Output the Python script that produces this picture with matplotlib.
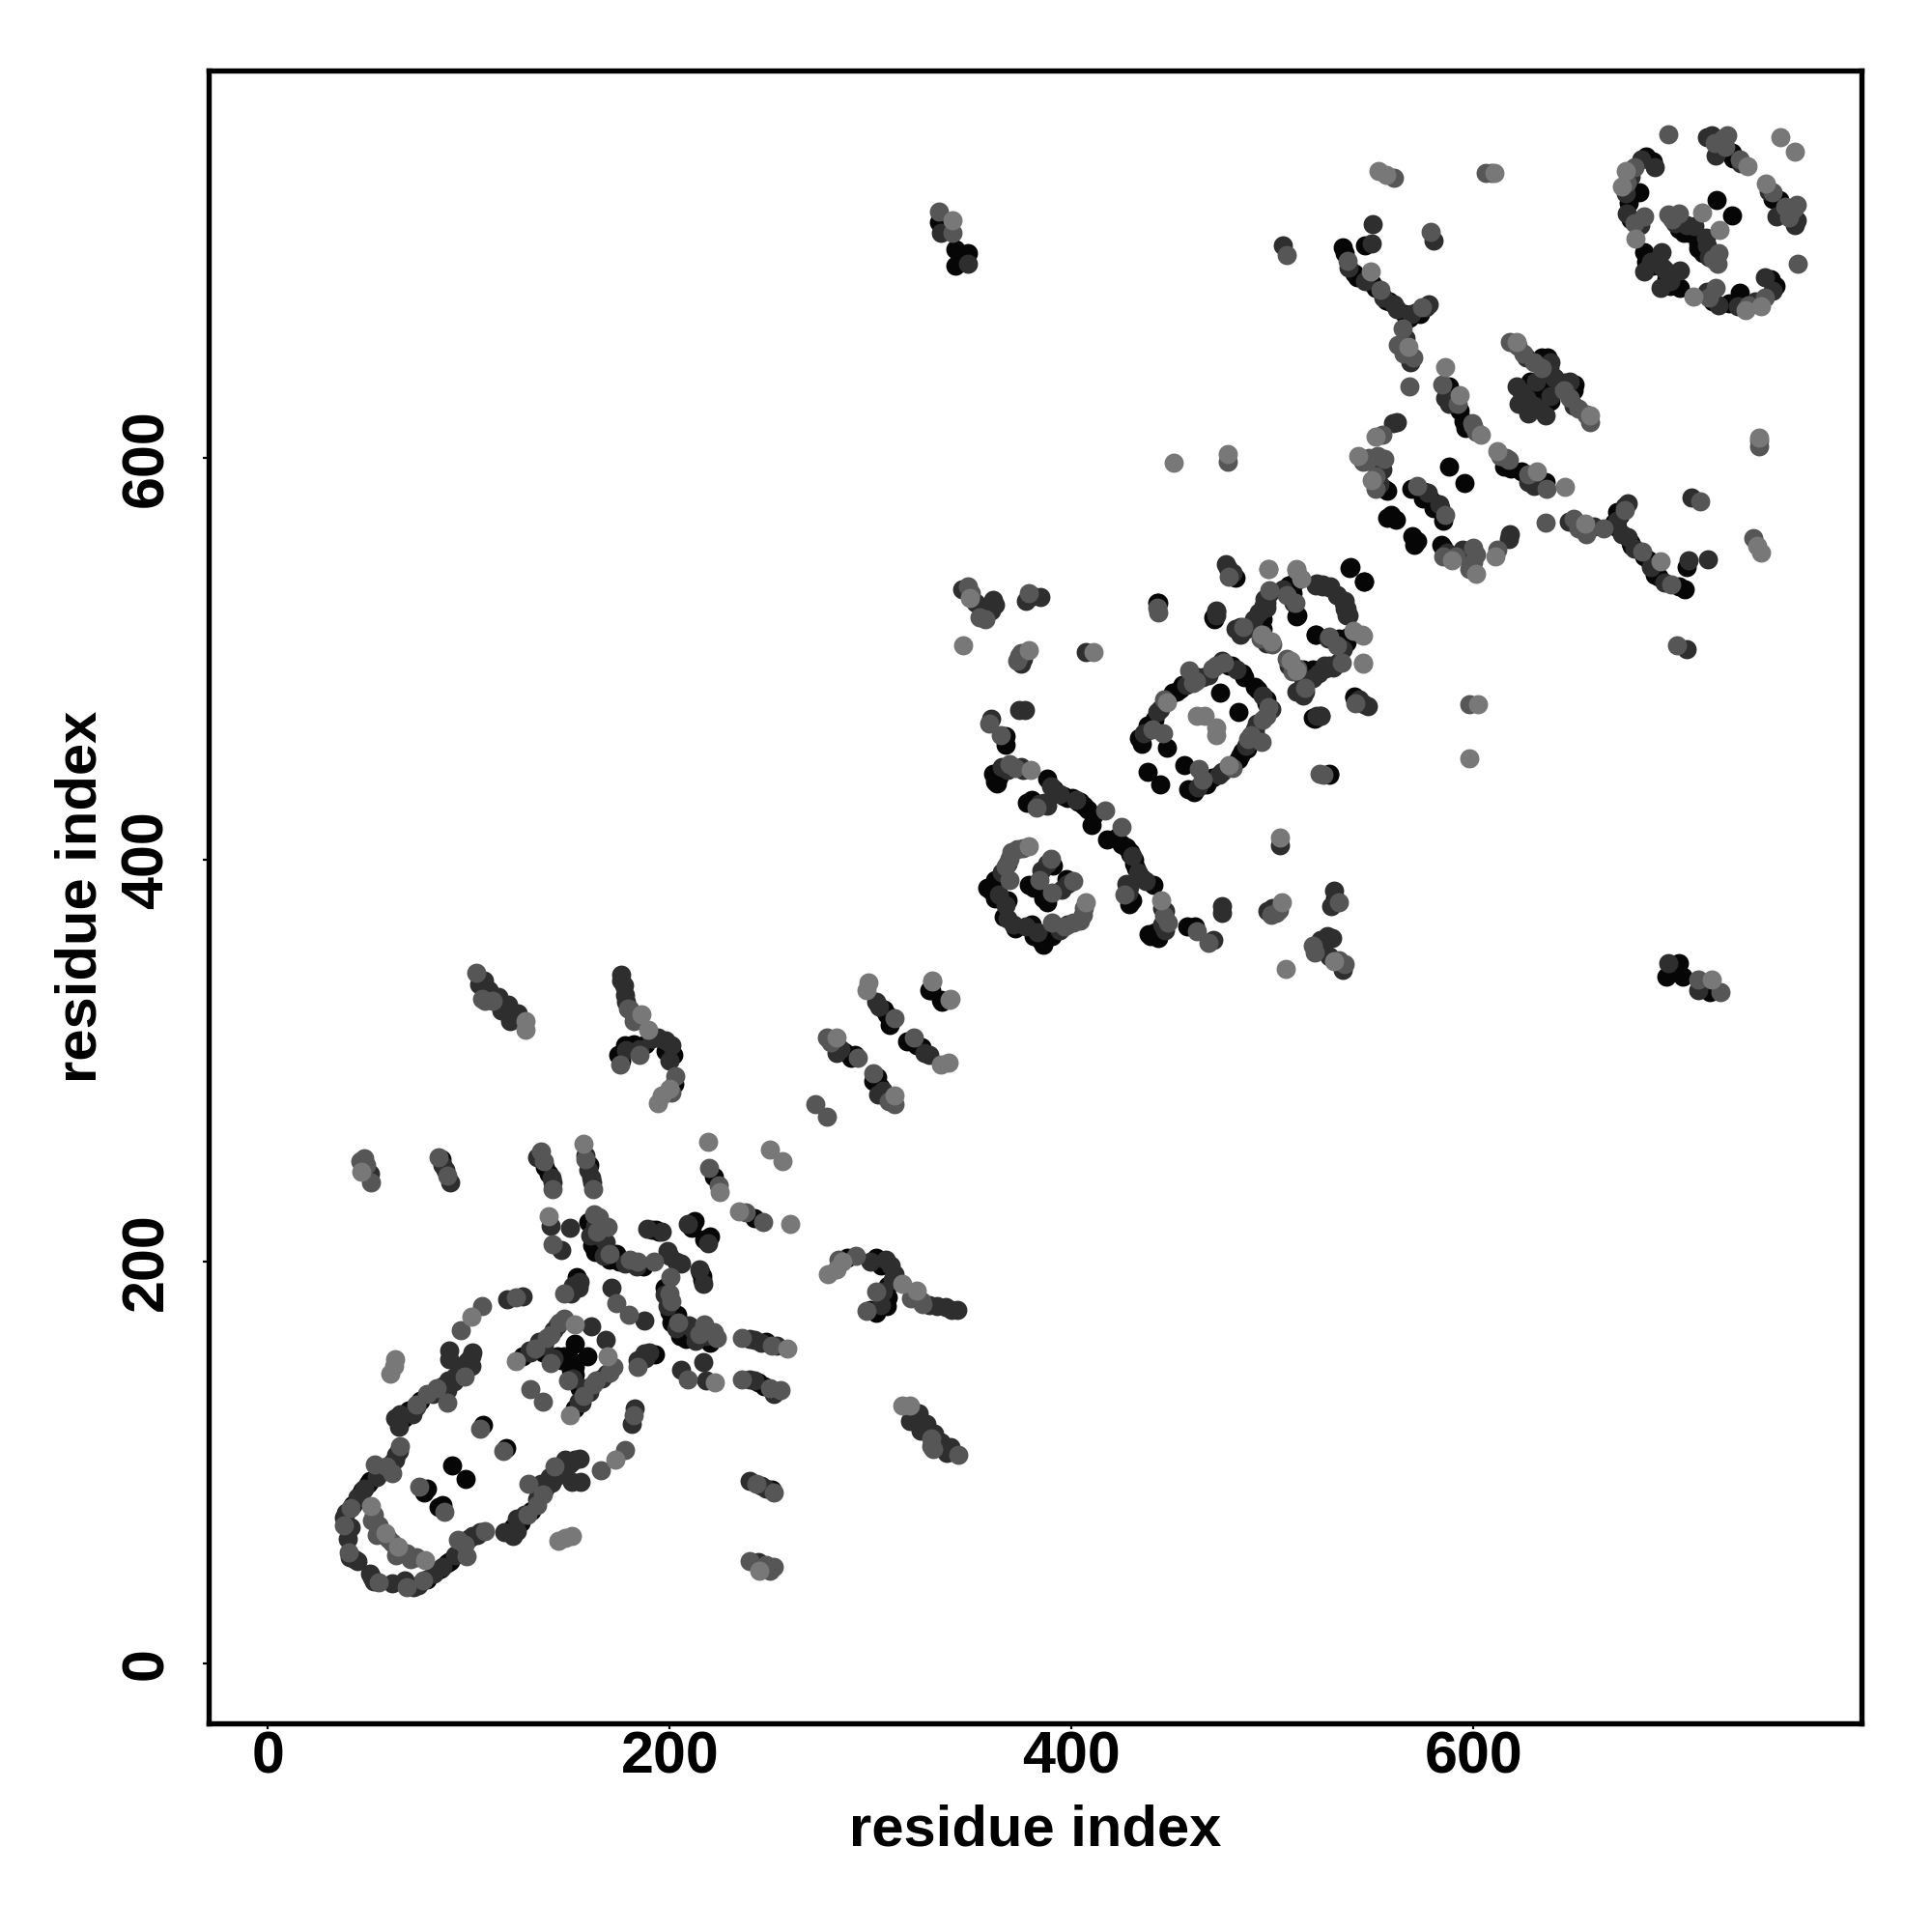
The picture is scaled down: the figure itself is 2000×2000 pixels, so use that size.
import matplotlib
matplotlib.use("Agg")
import matplotlib.pyplot as plt

# Contacts as (i, j) with i < j; the map is symmetric, so each is drawn at (i, j) and (j, i).
contacts_black = [
 (86.4,251),(140,244),(201.8,302.9),(188,308.5),(182.2,308.5),(174.4,302.9),(202.2,288.5),
 (306.8,325.4),(309.7,318.1),(330.3,335),(335.2,329.4),(287.1,304.5),(290,301.3),(221.8,242.3),
 (159.7,220),(161.4,208),(173.4,203.7),(170,201),(187.1,197.7),(194.8,215.2),(191,216),(212.5,220.3),
 (153.7,192.5),(85,135),(67.8,122.2),(127,153),(147.6,153),(140.8,152.2),(144,153),(152.8,159),
 (107.3,118.7),(91.9,98.5),(79,87),(78,85),(49.8,89.5),(47,86),
 (367,461.5),(367,457.5),(364,441.5),(363,438.2),(361.1,443),(387.6,440.7),(377.8,428.6),(392.5,433.4),
 (400.3,431),(406.2,427),(411.1,422.2),(410.1,417.4),(396,432),(403,429),
 (363,388.6),(360.1,384.6),(366,371.8),(378.8,387.8),(381,386),(390.5,397.4),(380.7,531.2),
 (480.7,540.8),(538.8,545.6),(545.5,538.4),(508.2,536.8),(512.1,521.6),(521.5,512),(535.6,508.7),
 (518,493.5),(520.9,470.3),(470.9,520),(443.1,528),(433.7,460.7),(437.6,467),(450.3,483.1),(455.2,487.1),
 (479.8,496.7),(484.7,492.7),(473.9,483.1),(447.4,455.9),(437.6,443.9),(442.5,528),
 (348.5,702),(342,696),(342,704),(334,717.7),(540.5,481.5),
 (534.8,705.1),(540.8,692.2),(549.4,687.1),(556.3,678.5),(565.7,671.6),(573.4,671.6),(546,706),
 (588,635.6),(593.2,623.6),(594.9,618.4),(636.9,650.2),(628.3,638),(587.7,595.6),(555.4,585),
 (569.1,585),(575.1,583.3),(557.1,570.4),(561.4,569.5),(689.3,748),(682.4,732.6),(678.1,718.8),
 (685,702.5),(689.3,695.7),(728.7,752.3),(720.7,728.6),(704.7,712),
 (42,79),(46,84),(51,91),(70,126),(76,131),(95,145),(99,149),(137,155),(146,151),(150,152),
 (163,205),(175,200),(193,216),(211,217),(138,247),(160,248),(118,326),(198,305),(178,308),(176,300),
 (308,323),(292,303),(362,439),(380,430),(391,435),(398,431),(404,429),(408,425),(362,390),(358,386),(362,381),(368,380),
 (435,458),(439,465),(441,470),(452,484),(454,485),(463,491),(478,497),(486,491),(487,515),(533,510),(538,511),(515,495),(520,495),
 (536,702),(542,690),(551,685),(558,678),(568,670),(572,673),(590,630),(596,615),(630,634),(633,636),(634,650),
 (557,584),(572,585),(578,580),(580,575),(559,572),(686,698),(692,698),(677,727),(686,750),(729,749),(707,712),(702,714),
]
contacts_dark = [
 (88.4,245.7),(90.7,239.7),(141.6,239.7),(159.7,245.7),(161.4,239.7),(50.7,244),
 (107.7,339.8),(114.6,331.8),(119.5,327.8),(124.4,323.8),(120.5,319.7),(116,325),
 (175.8,343),(177.3,337.4),(178.3,329.4),(194,311.7),(200.9,307.7),(178.3,305.3),(198,310),
 (302.8,329.4),(283.2,303.7),
 (140.8,217.9),(146,205.7),(150.2,216.9),(160.5,213),(168.2,209.7),(183.7,197.7),(188.8,216.5),(199.1,205.4),
 (154.5,187.3),(151,184),(170.8,187.3),(119.3,181.3),(127,182.6),(90.2,155.6),(90.2,151.3),
 (101.3,153),(101.3,147.9),(99,150),(92.7,140.2),(89.3,135.9),(72.1,123.9),(63.6,122.2),(65.3,117.9),
 (144.2,168.5),(137.3,158.2),(130.5,154.8),(161,168),(65.3,105.8),(63.6,101.6),(54.1,93),(44.7,82.7),
 (37.8,72.4),(41.3,68),(44.7,50.9),
 (345.4,534.7),(361.1,529.6),(355.2,524),(362,527.2),(384.6,530.8),(374.8,497.5),(360.1,470.3),(373.9,474.6),
 (376.8,474.6),(365,446.3),(374.8,446.3),(389.5,436.6),(386.6,428.6),(367,377.4),(476.8,547.2),
 (521.9,537.6),(528.8,536),(535.6,528),(536.6,521.6),(495.4,526.4),(527.8,510.3),(532.7,498.3),(525.8,496.7),
 (516,483.9),(545.5,477.5),(523.9,471.9),(471.9,524),(481.7,515.1),(490.5,520),(442.5,473.5),(465,491.1),
 (474.9,499.1),(407.2,503.6),(505,706),(348.5,697),(335,712),
 (549.9,716.6),(549.4,706.8),(580.3,708.5),(577.7,676.8),(560.6,676.8),(569.1,671.6),(568.6,647.6),
 (588,627),(637.8,645),(621.5,635.6),(630.9,638.2),(622.3,627),(559.7,617.6),(562,618),(554.6,594.4),
 (683.2,748.9),(675.5,731.7),(693.6,702.5),(685,693),(718.4,760.9),(720.2,750.6),(700.4,717.1),(709.9,715.4),
 (39,75),(48,87),(56,96),(62,100),(64,104),(66,124),(74,128),(82,134),(87,138),(90,141),(93,143),(97,147),(100,151),(102,155),
 (40,62),(41,53),(43,52),(130,156),(135,160),(142,166),(142,152),(152,188),(155,190),(163,218),(166,212),(167,203),(178,199),(196,215),(209,219),(200,203),
 (87,248),(134,252),(141,242),(158,253),(161,242),(110,335),(122,322),(105,338),(176,340),(178,333),(191,311),(200,300),(185,306),(304,327),(285,306),
 (368,445),(376,445),(384,428),(388,427),(394,433),(402,430),(368,398),(365,394),(364,383),(371,368),(385,395),(388,398),
 (436,463),(444,475),(457,487),(468,492),(482,495),(493,523),(496,530),(505,535),(525,537),(532,532),(536,525),(528,497),(508,497),(512,484),(515,487),(543,480),(522,472),
 (352,528),(358,525),(360,524),(376,500),(377,529),
 (678,740),(690,745),(676,722),(683,716),(688,698),(694,695),(722,754),(733,747),(716,760),(706,716),
 (538,695),(546,688),(555,680),(562,674),(576,675),(586,630),(626,650),(638,648),(624,633),(626,630),(640,640),(553,587),(583,577),(566,660),
]
contacts_mid = [
 (48,251.7),(51.2,239.7),(89.3,243),(136,255),(137.3,250),(141.6,236),(158,250.8),(161.9,236),
 (103.8,343.8),(106.7,331),(180.3,325.4),(185.2,302.9),(175.4,298.1),(202.8,292.5),
 (311.7,321.4),(278.3,311.7),(293.6,301.3),(272.4,278.4),
 (219.7,246.6),(224.5,238),(141.6,208.8),(162.2,223.4),(169,217.4),(180.2,201),(192.3,200.2),
 (147.6,184),(173.4,179.6),(123.6,182.2),(106.5,177.9),(96.2,165.9),(97.9,142.7),(79,134),(73.9,129),(89.3,129.9),
 (147.6,171.9),(140.8,163.3),(140.8,149.6),(130.5,136.7),(105.6,117),(75.6,87.8),(53.3,99),(61.8,94.7),
 (41.3,77.5),(37.8,69),(55,69),(54,63.8),(40.4,55.2),
 (348.4,536),(357.2,520),(378.8,532.8),(373.9,501.5),(372.9,499.1),(358.8,467.9),(364.6,462.3),(369,447.9),
 (382.7,426.2),(416.6,424.6),(372.9,405.4),(369,400.6),(367,396.6),(369,390.2),(389.5,400.6),(443.1,523.2),
 (498.4,534.4),(511.1,528),(507.2,500),(512.1,495.1),(485.6,516),(460.2,487.9),(470,495.1),(458.6,494.3),
 (445.4,463.1),(477.5,598),(442.5,525.5),(507,701),(340.5,712),(334,722.6),
 (578.6,712.8),(537.4,698.2),(553.7,683.7),(574.3,675),(564.9,664.8),(562.3,656.2),(568,635.6),
 (584.6,636.5),(599.2,617.6),(600,616),(618,658),(624.9,652),(554.6,611.6),(546.8,598.7),(552,601.3),(555.4,599.6),(551.1,585),
 (609,742),(606,742),(560.2,739.4),(697,761.2),(685,720.5),(724.4,759.2),(732.2,748.9),(697,721.4),
 (59,98),(66,108),(84,137),(53,74),(52,71),(60,62),(133,157),(139,162),(145,170),(164,215),(170,204),(184,200),(165,222),
 (46,250),(49,248),(85,252),(112,330),(108,330),(179,326),(182,320),(201,284),(280,309),
 (372,446),(370,404),(376,406),(384,390),(440,465),(446,480),(462,489),(472,497),(476,498),(507,532),(510,494),(541,478),(354,521),(350,533),(375,503),
 (680,745),(676,737),(680,717),(725,755),(726,761),(720,757),(702,722),(699,719),
 (551,591),(545,598),(548,600),(592,627),(601,613),(586,572),(622,656),(630,648),(634,645),(565,652),(570,650),
]
contacts_light = [
 (46.4,244.8),(157,258.6),(128.3,319.7),(128.3,315.7),(185.8,323),(189.1,315.7),(199.9,286.1),(196,282.9),(194,278.9),
 (298.9,339),(298,335),(330.7,339.8),(339.5,330.6),(282.8,311.7),
 (218.9,259.8),(224.9,234.5),(249.9,256),(140,222.5),(152.8,169),(123.6,150.5),(101.3,172.8),
 (63.6,151.3),(62.7,147.9),(61,144.5),(51.5,78.4),(58.4,64.7),
 (349.4,530.4),(346,506.7),(378.8,504.7),(411.1,503.6),(379.7,444.7),(378.8,407),
 (498,544.8),(511.7,544.8),(514,540),(544.5,512),(544.9,497.8),(494.5,512),(499.4,508.7),(447.4,478.3),(466,471.9),(462.1,471.9),
 (477.5,602),(450.7,597.7),(340.5,718.7),
 (552.8,742.9),(556.3,741.1),(610.3,742),(548.6,693.1),(567.4,655.3),(585.8,645.6),(593.2,631.3),(603.5,611.6),
 (621.5,658),(551.1,610.7),(542.5,601.3),(549.4,589.3),(675.5,742.9),(673.8,735.1),(680.7,709.4),(736.5,745.4),(752.8,760),(713.8,722.3),
]
level_names = ["black", "dark", "mid", "light"]
level_colors = ["#060606", "#2e2e2e", "#565656", "#787878"]
levels = [contacts_black, contacts_dark, contacts_mid, contacts_light]
tick_values = [0, 200, 400, 600]
axis_label = "residue index"

plt.rcParams["font.family"] = ["Liberation Sans", "DejaVu Sans"]
plt.rcParams["font.weight"] = "bold"

fig = plt.figure(figsize=(20, 20), dpi=100, facecolor="white")
ax = fig.add_axes([216/2000, 1-1784/2000, (1927-216)/2000, (1784-73)/2000])

for name, color, pts in zip(level_names, level_colors, levels):
    xs = [p[0] for p in pts] + [p[1] for p in pts]
    ys = [p[1] for p in pts] + [p[0] for p in pts]
    ax.scatter(xs, ys, s=205, c=color, linewidths=0, zorder=2, label=name)

ax.set_xlim(-29.4, 793)
ax.set_ylim(-29.8, 793)
ax.set_xticks(tick_values)
ax.set_yticks(tick_values)
ax.set_xticklabels([str(v) for v in tick_values], fontsize=44, fontweight="bold")
ax.set_yticklabels([str(v) for v in tick_values], fontsize=44, fontweight="bold", rotation=90, va="center")
ax.tick_params(axis="x", length=4.5, width=1.6, pad=1)
ax.tick_params(axis="y", length=4.5, width=1.6, pad=20.5)
for s in ax.spines.values():
    s.set_linewidth(3.9)
ax.set_xlabel(axis_label, fontsize=43, fontweight="bold")
ax.set_ylabel(axis_label, fontsize=43, fontweight="bold")
ax.xaxis.set_label_coords(0.5, -(1895-1784)/1711, transform=ax.transAxes)
ax.yaxis.set_label_coords(-(216-84)/1711, 0.5, transform=ax.transAxes)
ax.xaxis.label.set_va("center")
ax.yaxis.label.set_va("center")

fig.savefig("out.png", dpi=100, facecolor="white")
